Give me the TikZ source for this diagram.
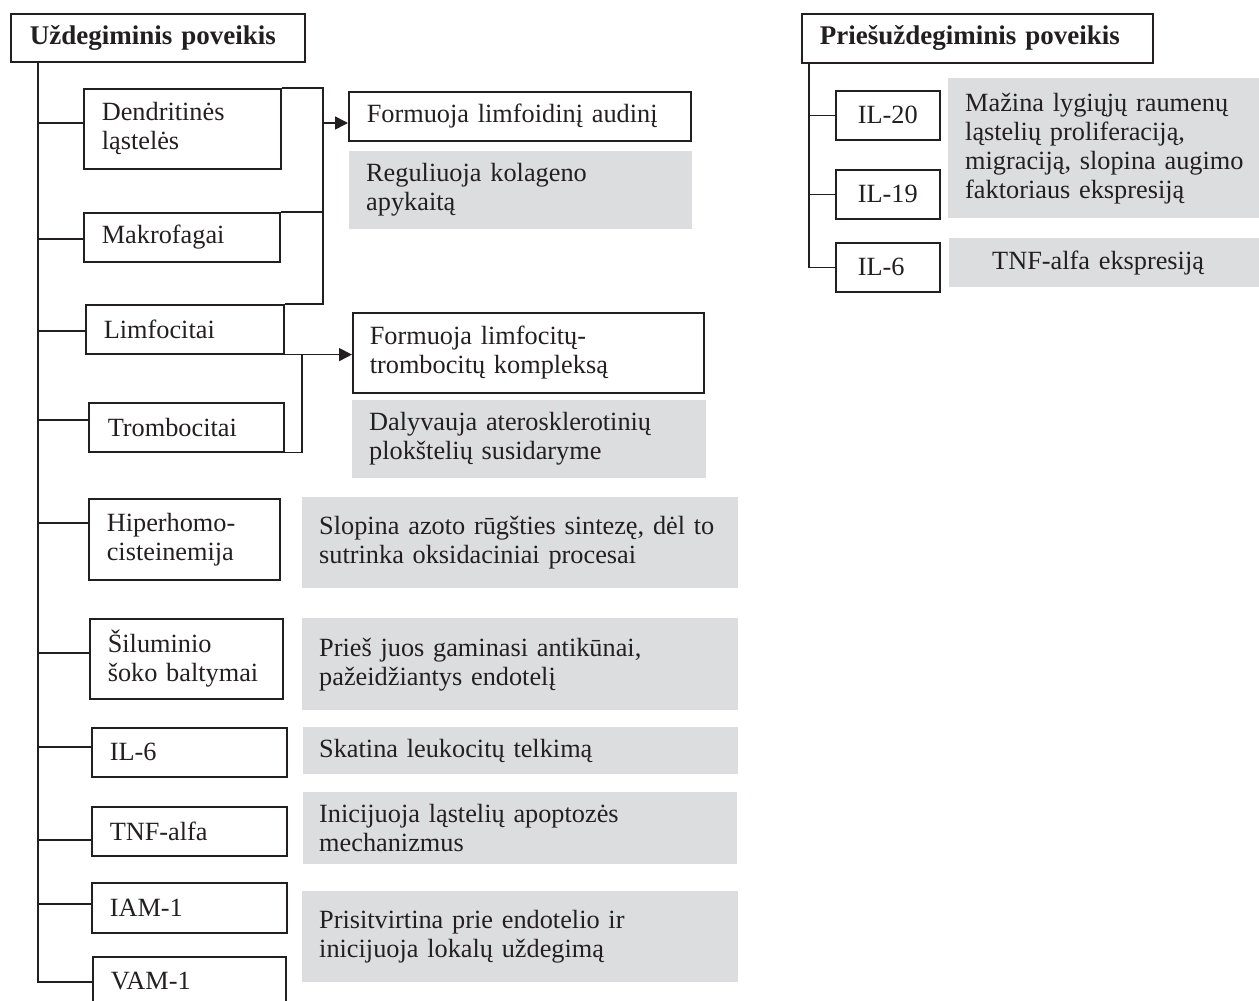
\documentclass[tikz,border=0pt]{standalone}
\usepackage{fontspec}
\setmainfont{Liberation Serif}
\usetikzlibrary{arrows.meta,calc}
\definecolor{grayfill}{RGB}{220,221,223}
\definecolor{ink}{RGB}{35,31,32}
\newcommand{\nb}[1]{\mbox{#1}}
\begin{document}
\begin{tikzpicture}[x=1pt,y=-1pt,
  every node/.style={font=\fontsize{26.3}{29}\selectfont, text=ink},
  cell/.style={draw=ink, line width=1.6pt, anchor=north west, align=left, inner ysep=0pt},
  shade/.style={fill=grayfill, anchor=north west, align=left, inner ysep=0pt},
  headfont/.style={font=\fontsize{27}{29}\selectfont\bfseries},
  link/.style={draw=ink, line width=1.6pt},
  arr/.style={link, -{Triangle[length=13pt,width=13pt]}}]
\useasboundingbox (0,0) rectangle (1259,1001);
\clip (0,0) rectangle (1259,1001);

% ---------- left part ----------
\node[cell, headfont, minimum width=294pt, minimum height=48pt, text width=256pt, inner xsep=19pt] (t1) at (10,13) {\nb{Uždegiminis poveikis}};

\node[cell, minimum width=197pt, minimum height=80pt, text width=161pt, inner xsep=18pt] (dc) at (83,88) {\nb{Dendritinės}\\\nb{ląstelės}};
\node[cell, minimum width=196pt, minimum height=49pt, text width=160pt, inner xsep=18pt] (mk) at (83,212) {\nb{Makrofagai}};
\node[cell, minimum width=198pt, minimum height=49pt, text width=162pt, inner xsep=18pt] (lf) at (85,304) {\nb{Limfocitai}};
\node[cell, minimum width=195pt, minimum height=49pt, text width=157pt, inner xsep=19pt] (tr) at (88,402) {\nb{Trombocitai}};
\node[cell, minimum width=191pt, minimum height=81pt, text width=155pt, inner xsep=18pt] (hh) at (88,498) {\nb{Hiperhomo-}\\\nb{cisteinemija}};
\node[cell, minimum width=193pt, minimum height=80pt, text width=157pt, inner xsep=18pt] (sb) at (89,618) {\nb{Šiluminio}\\\nb{šoko baltymai}};
\node[cell, minimum width=195pt, minimum height=49pt, text width=159pt, inner xsep=18pt] (il6) at (91,727) {\nb{IL-6}};
\node[cell, minimum width=195pt, minimum height=49pt, text width=159pt, inner xsep=18pt] (tnf) at (91,806) {\nb{TNF-alfa}};
\node[cell, minimum width=195pt, minimum height=50pt, text width=159pt, inner xsep=18pt] (iam) at (91,882) {\nb{IAM-1}};
\node[cell, minimum width=193pt, minimum height=49pt, text width=157pt, inner xsep=18pt] (vam) at (92,956) {\nb{VAM-1}};

\node[cell, minimum width=342pt, minimum height=49pt, text width=306pt, inner xsep=18pt] (f1) at (348,91) {\nb{Formuoja limfoidinį audinį}};
\node[shade, minimum width=343pt, minimum height=78pt, text width=309pt, inner xsep=17pt] (g1) at (349,151) {\nb{Reguliuoja kolageno}\\\nb{apykaitą}};
\node[cell, minimum width=351pt, minimum height=80pt, text width=317pt, inner xsep=17pt] (f2) at (352,312) {\nb{Formuoja limfocitų-}\\\nb{trombocitų kompleksą}};
\node[shade, minimum width=354pt, minimum height=78pt, text width=320pt, inner xsep=17pt] (g2) at (352,400) {\nb{Dalyvauja aterosklerotinių}\\\nb{plokštelių susidaryme}};
\node[shade, minimum width=436pt, minimum height=91pt, text width=402pt, inner xsep=17pt] (g3) at (302,497) {\nb{Slopina azoto rūgšties sintezę, dėl to}\\\nb{sutrinka oksidaciniai procesai}};
\node[shade, minimum width=436pt, minimum height=92pt, text width=402pt, inner xsep=17pt] (g4) at (302,618) {\nb{Prieš juos gaminasi antikūnai,}\\\nb{pažeidžiantys endotelį}};
\node[shade, minimum width=435pt, minimum height=47pt, text width=403pt, inner xsep=16pt] (g5) at (303,727) {\nb{Skatina leukocitų telkimą}};
\node[shade, minimum width=434pt, minimum height=72pt, text width=402pt, inner xsep=16pt] (g6) at (303,792) {\nb{Inicijuoja ląstelių apoptozės}\\\nb{mechanizmus}};
\node[shade, minimum width=436pt, minimum height=91pt, text width=402pt, inner xsep=17pt] (g7) at (302,891) {\nb{Prisitvirtina prie endotelio ir}\\\nb{inicijuoja lokalų uždegimą}};

% trunk and branches
\coordinate (tkx) at (38,0);
\coordinate (bdc) at ($(dc.north west)+(0,35)$);
\coordinate (bmk) at ($(mk.north west)+(0,27)$);
\coordinate (blf) at ($(lf.north west)+(0,27)$);
\coordinate (btr) at ($(tr.north west)+(0,18)$);
\coordinate (bhh) at ($(hh.north west)+(0,25)$);
\coordinate (bsb) at ($(sb.north west)+(0,35)$);
\coordinate (bil) at ($(il6.north west)+(0,20)$);
\coordinate (btn) at ($(tnf.north west)+(0,34)$);
\coordinate (bia) at ($(iam.north west)+(0,22)$);
\coordinate (bva) at ($(vam.north west)+(0,26)$);
\draw[link] (tkx |- t1.south) -- (tkx |- bva) -- (bva);
\foreach \b in {bdc,bmk,blf,btr,bhh,bsb,bil,btn,bia}
  \draw[link] (tkx |- \b) -- (\b);

% bracket of dendritic cells / macrophages / lymphocytes
\coordinate (bx) at (323,0);
\draw[link] (dc.north east) -- (dc.north east -| bx) -- (bx |- lf.north) -- (lf.north east);
\draw[link] (mk.north east) -- (mk.north east -| bx);
\draw[arr] (bx |- bdc) -- (f1.west |- bdc);

% bracket of lymphocytes / platelets
\coordinate (by) at (302,0);
\draw[arr] (lf.south east) -- (f2.west |- lf.south);
\draw[link] (by |- lf.south) -- (by |- tr.south) -- (tr.south east);

% ---------- right part ----------
\node[cell, headfont, minimum width=351pt, minimum height=49pt, text width=315pt, inner xsep=18pt] (t2) at (801,13) {\nb{Priešuždegiminis poveikis}};
\node[cell, minimum width=104pt, minimum height=49pt, text width=60pt, inner xsep=22pt] (r20) at (835,90) {\nb{IL-20}};
\node[cell, minimum width=104pt, minimum height=49pt, text width=60pt, inner xsep=22pt] (r19) at (835,169) {\nb{IL-19}};
\node[cell, minimum width=104pt, minimum height=49pt, text width=60pt, inner xsep=22pt] (r6) at (835,242) {\nb{IL-6}};
\node[shade, minimum width=311pt, minimum height=140pt, text width=277pt, inner xsep=17pt] (gm) at (948,78) {\nb{Mažina lygiųjų raumenų}\\\nb{ląstelių proliferaciją,}\\\nb{migraciją, slopina augimo}\\\nb{faktoriaus ekspresiją}};
\node[shade, minimum width=310pt, minimum height=49pt, text width=224pt, inner xsep=43pt] (gt) at (949,238) {\nb{TNF-alfa ekspresiją}};

\coordinate (rkx) at (809,0);
\draw[link] (rkx |- t2.south) -- (rkx |- r6.west) -- (r6.west);
\draw[link] (rkx |- r20.west) -- (r20.west);
\draw[link] (rkx |- r19.west) -- (r19.west);
\end{tikzpicture}
\end{document}
